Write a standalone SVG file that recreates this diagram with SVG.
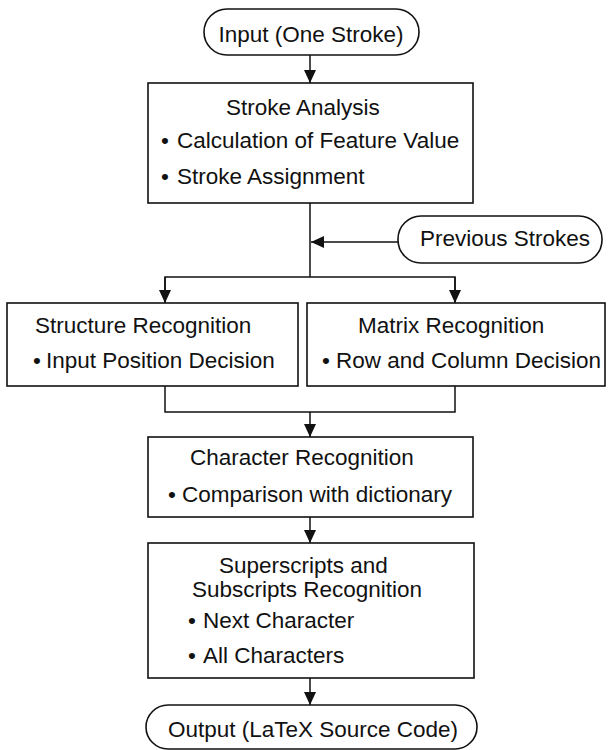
<svg xmlns="http://www.w3.org/2000/svg" width="608" height="750" viewBox="0 0 608 750">
<defs>
<style>
.box{fill:#fff;stroke:#111;stroke-width:1.6}
.ln{fill:none;stroke:#111;stroke-width:1.5}
text{font-family:"Liberation Sans",Arial,sans-serif;font-size:22.5px;fill:#111}
.m{text-anchor:middle}
</style>
<marker id="ah" markerUnits="userSpaceOnUse" markerWidth="12" markerHeight="14" refX="6" refY="13" orient="auto-start-reverse" viewBox="0 0 12 14">
<path d="M0,0 L12,0 L6,13 Z" fill="#111" transform="rotate(0)"/>
</marker>
<marker id="ahd" markerUnits="userSpaceOnUse" markerWidth="14" markerHeight="12" refX="13" refY="6" orient="auto" viewBox="0 0 14 12">
<path d="M0,0 L13,6 L0,12 Z" fill="#111"/>
</marker>
</defs>

<g id="connectors">
<path class="ln" d="M310,55 V83" marker-end="url(#ahd)"/>
<path class="ln" d="M310,203 V277"/>
<path class="ln" d="M398,242 H311" marker-end="url(#ahd)"/>
<path class="ln" d="M165,302 V277 H455 V302" />
<path class="ln" d="M165,277 V303" marker-end="url(#ahd)"/>
<path class="ln" d="M455,277 V303" marker-end="url(#ahd)"/>
<path class="ln" d="M165,386 V412 H455 V386"/>
<path class="ln" d="M310,412 V437" marker-end="url(#ahd)"/>
<path class="ln" d="M310,517 V543" marker-end="url(#ahd)"/>
<path class="ln" d="M310,678 V705" marker-end="url(#ahd)"/>
</g>

<g id="input">
<rect class="box" x="204" y="9" width="215" height="46" rx="23"/>
<text class="m" x="311" y="42">Input (One Stroke)</text>
</g>

<g id="stroke-analysis">
<rect class="box" x="148" y="83" width="325" height="120"/>
<text x="226" y="115">Stroke Analysis</text>
<text><tspan x="161" y="148">•</tspan><tspan x="177" y="148">Calculation of Feature Value</tspan></text>
<text><tspan x="161" y="184">•</tspan><tspan x="177" y="184">Stroke Assignment</tspan></text>
</g>

<g id="previous-strokes">
<rect class="box" x="398" y="216" width="204" height="47" rx="23"/>
<text class="m" x="505" y="246">Previous Strokes</text>
</g>

<g id="structure-recognition">
<rect class="box" x="7" y="303" width="291" height="83"/>
<text x="35" y="333">Structure Recognition</text>
<text><tspan x="33" y="368">•</tspan><tspan x="46" y="368">Input Position Decision</tspan></text>
</g>

<g id="matrix-recognition">
<rect class="box" x="307" y="303" width="298" height="83"/>
<text x="358" y="333">Matrix Recognition</text>
<text><tspan x="322" y="368">•</tspan><tspan x="336" y="368">Row and Column Decision</tspan></text>
</g>

<g id="character-recognition">
<rect class="box" x="148" y="437" width="325" height="80"/>
<text x="190" y="465">Character Recognition</text>
<text><tspan x="168" y="502">•</tspan><tspan x="182" y="502">Comparison with dictionary</tspan></text>
</g>

<g id="superscripts">
<rect class="box" x="148" y="543" width="326" height="135"/>
<text x="219" y="573">Superscripts and</text>
<text x="192" y="597">Subscripts Recognition</text>
<text><tspan x="188" y="628">•</tspan><tspan x="203" y="628">Next Character</tspan></text>
<text><tspan x="188" y="663">•</tspan><tspan x="203" y="663">All Characters</tspan></text>
</g>

<g id="output">
<rect class="box" x="146" y="705" width="331" height="44" rx="22"/>
<text class="m" x="313" y="737">Output (LaTeX Source Code)</text>
</g>
</svg>
